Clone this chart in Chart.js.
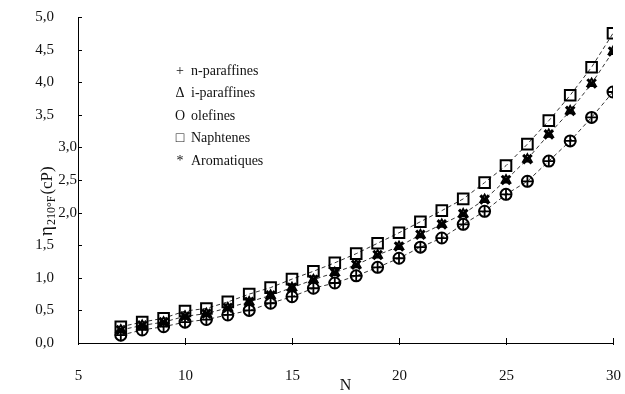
<!DOCTYPE html>
<html lang="fr">
<head>
    <meta charset="UTF-8">
    <script src="https://cdn.jsdelivr.net/npm/chart.js@4.4.0/dist/chart.umd.min.js"></script>
    <title>Viscosite 210F</title>
    <style>
        body { margin: 0; background: #fff; }
        .box { width: 625px; height: 394px; position: relative; }
    </style>
</head>
<body>
    <div class="box"><canvas id="myChart"></canvas></div>

    <script>
        // nombre d'atomes de carbone
        const carbones = [7, 8, 9, 10, 11, 12, 13, 14, 15, 16, 17, 18, 19, 20, 21, 22, 23, 24, 25, 26, 27, 28, 29, 30]

        // viscosite a 210 F (cP)
        const nParaffines = [0.12, 0.20, 0.25, 0.32, 0.36, 0.43, 0.50, 0.61, 0.71, 0.84, 0.92, 1.03, 1.16, 1.30, 1.47, 1.61, 1.82, 2.02, 2.28, 2.48, 2.79, 3.10, 3.46, 3.85]
        const iParaffines = [0.20, 0.27, 0.32, 0.41, 0.45, 0.54, 0.63, 0.73, 0.85, 0.97, 1.08, 1.20, 1.35, 1.48, 1.66, 1.82, 1.98, 2.20, 2.50, 2.82, 3.20, 3.56, 3.98, 4.47]
        const olefines = [0.12, 0.20, 0.25, 0.32, 0.36, 0.43, 0.50, 0.61, 0.71, 0.84, 0.92, 1.03, 1.16, 1.30, 1.47, 1.61, 1.82, 2.02, 2.28, 2.48, 2.79, 3.10, 3.46, 3.85]
        const naphtenes = [0.25, 0.32, 0.38, 0.49, 0.53, 0.63, 0.75, 0.85, 0.98, 1.10, 1.23, 1.37, 1.53, 1.69, 1.86, 2.03, 2.21, 2.46, 2.72, 3.05, 3.41, 3.80, 4.23, 4.75]
        const aromatiques = [0.20, 0.27, 0.32, 0.41, 0.45, 0.54, 0.63, 0.73, 0.85, 0.97, 1.08, 1.20, 1.35, 1.48, 1.66, 1.82, 1.98, 2.20, 2.50, 2.82, 3.20, 3.56, 3.98, 4.47]

        const yTicks = [0, 0.5, 1, 1.5, 2, 2.5, 3, 3.5, 4, 4.5, 5]
        const xTicks = [5, 10, 15, 20, 25, 30]

        const legende = [
            ['+', 'n-paraffines'],
            ['\u0394', 'i-paraffines'],
            ['O', 'olefines'],
            ['\u25A1', 'Naphtenes'],
            ['*', 'Aromatiques']
        ]

        const serif = '"Liberation Serif", "DejaVu Serif", serif'

        function punti(valori) {
            return carbones.map((n, i) => ({ x: n, y: valori[i] }))
        }

        function serie(nom, valori, stile, r, spessore, linea) {
            return {
                label: nom,
                data: punti(valori),
                pointStyle: stile,
                pointRadius: r,
                pointBorderWidth: spessore,
                pointBorderColor: '#000',
                pointBackgroundColor: 'rgba(0,0,0,0)',
                borderColor: '#333',
                borderWidth: 1,
                borderDash: [4, 3],
                showLine: linea,
                tension: 0
            }
        }

        // assi, etichette e legenda disegnati a mano
        const decoro = {
            id: 'decoro',
            afterDraw(chart) {
                const ctx = chart.ctx
                const xs = chart.scales.x
                const ys = chart.scales.y
                const a = chart.chartArea
                ctx.save()
                ctx.strokeStyle = '#000'
                ctx.lineWidth = 1
                ctx.fillStyle = '#111'

                // tacche asse y
                ctx.font = '15px ' + serif
                ctx.textAlign = 'right'
                ctx.textBaseline = 'middle'
                yTicks.forEach(v => {
                    let py = Math.round(ys.getPixelForValue(v)) + 0.5
                    ctx.beginPath()
                    ctx.moveTo(a.left, py)
                    ctx.lineTo(a.left + 4, py)
                    ctx.stroke()
                    let xl = (v >= 2 && v <= 3) ? a.left - 1 : a.left - 24
                    ctx.fillText(v.toFixed(1).replace('.', ','), xl, py)
                })

                // tacche asse x
                ctx.textAlign = 'center'
                xTicks.forEach(v => {
                    let px = Math.round(xs.getPixelForValue(v)) + 0.5
                    ctx.beginPath()
                    ctx.moveTo(px, a.bottom - 5)
                    ctx.lineTo(px, a.bottom + 2)
                    ctx.stroke()
                    ctx.fillText(String(v), px, a.bottom + 33)
                })

                // titolo asse x
                ctx.font = '16px ' + serif
                ctx.fillText('N', (xs.getPixelForValue(15) + xs.getPixelForValue(20)) / 2, a.bottom + 43)

                // titolo asse y con pedice
                ctx.save()
                ctx.translate(52, 236)
                ctx.rotate(-Math.PI / 2)
                ctx.textAlign = 'left'
                ctx.textBaseline = 'alphabetic'
                ctx.font = '19px ' + serif
                ctx.fillText('\u03B7', 0, 0)
                let w = ctx.measureText('\u03B7').width + 1
                ctx.font = '12px ' + serif
                ctx.fillText('210\u00B0F', w, 3)
                w += ctx.measureText('210\u00B0F').width + 1
                ctx.font = '17px ' + serif
                ctx.fillText('(cP)', w, 0)
                ctx.restore()

                // legenda
                ctx.font = '14px ' + serif
                ctx.textBaseline = 'middle'
                legende.forEach((l, i) => {
                    let yy = 71 + i * 22.5
                    ctx.textAlign = 'center'
                    ctx.fillText(l[0], 180, yy)
                    ctx.textAlign = 'left'
                    ctx.fillText(l[1], 191, yy)
                })
                ctx.restore()
            }
        }

        const ctx = document.getElementById('myChart').getContext('2d')
        const myChart = new Chart(ctx, {
            type: 'line',
            data: {
                datasets: [
                    serie('n-paraffines', nParaffines, 'cross', 6, 1.8, false),
                    serie('i-paraffines', iParaffines, 'triangle', 5, 1.8, false),
                    serie('olefines', olefines, 'circle', 5.5, 2, true),
                    serie('Naphtenes', naphtenes, 'rect', 7.5, 2, true),
                    serie('Aromatiques', aromatiques, 'crossRot', 6, 3, true)
                ]
            },
            options: {
                responsive: true,
                maintainAspectRatio: false,
                animation: false,
                layout: { padding: { left: 70, right: 12, top: 17, bottom: 43 } },
                plugins: {
                    legend: { display: false },
                    tooltip: { enabled: false }
                },
                scales: {
                    x: {
                        type: 'linear',
                        min: 5,
                        max: 30,
                        grid: { display: false },
                        ticks: { display: false },
                        border: { display: true, color: '#000', width: 1 }
                    },
                    y: {
                        min: 0,
                        max: 5,
                        grid: { display: false },
                        ticks: { display: false },
                        border: { display: true, color: '#000', width: 1 }
                    }
                }
            },
            plugins: [decoro]
        })
    </script>
</body>
</html>
